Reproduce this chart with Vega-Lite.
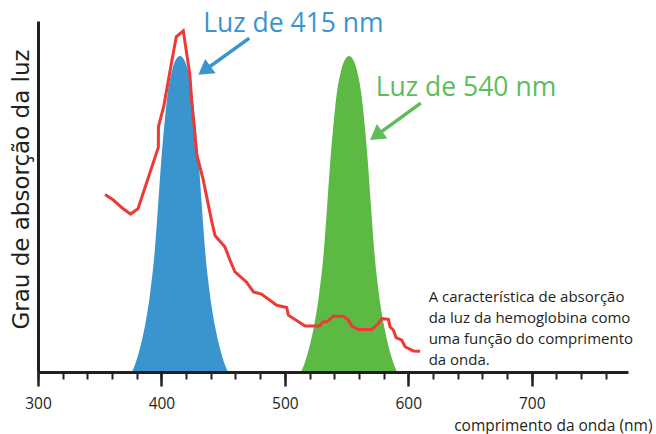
{
  "$schema": "https://vega.github.io/schema/vega-lite/v6.json",
  "width": 590,
  "height": 351,
  "autosize": {"type": "none"},
  "padding": {"left": 38, "top": 21, "right": 28, "bottom": 62},
  "background": "white",
  "config": {"view": {"stroke": null}, "font": "Open Sans"},
  "datasets": {
    "blue": [
      {"nm": 376, "abs": 0}, {"nm": 378.5, "abs": 2}, {"nm": 382, "abs": 6}, {"nm": 386.6, "abs": 13},
      {"nm": 390.7, "abs": 22}, {"nm": 394.7, "abs": 35}, {"nm": 397.2, "abs": 47}, {"nm": 399.8, "abs": 60},
      {"nm": 402.8, "abs": 72}, {"nm": 405.3, "abs": 80}, {"nm": 408, "abs": 85}, {"nm": 411, "abs": 88.5},
      {"nm": 415, "abs": 90}, {"nm": 419, "abs": 88.5}, {"nm": 422, "abs": 85}, {"nm": 424.7, "abs": 80},
      {"nm": 427.2, "abs": 72}, {"nm": 430.2, "abs": 60}, {"nm": 432.8, "abs": 47}, {"nm": 435.3, "abs": 35},
      {"nm": 439.3, "abs": 22}, {"nm": 443.4, "abs": 13}, {"nm": 448, "abs": 6}, {"nm": 451.5, "abs": 2},
      {"nm": 454, "abs": 0}
    ],
    "green": [
      {"nm": 513, "abs": 0}, {"nm": 515.5, "abs": 2}, {"nm": 519, "abs": 6}, {"nm": 523.6, "abs": 13},
      {"nm": 527.7, "abs": 22}, {"nm": 531.7, "abs": 35}, {"nm": 534.2, "abs": 47}, {"nm": 536.8, "abs": 60},
      {"nm": 539.8, "abs": 72}, {"nm": 542.3, "abs": 80}, {"nm": 545, "abs": 85}, {"nm": 548, "abs": 88.5},
      {"nm": 552, "abs": 90}, {"nm": 556, "abs": 88.5}, {"nm": 559, "abs": 85}, {"nm": 561.7, "abs": 80},
      {"nm": 564.2, "abs": 72}, {"nm": 567.2, "abs": 60}, {"nm": 569.8, "abs": 47}, {"nm": 572.3, "abs": 35},
      {"nm": 576.3, "abs": 22}, {"nm": 580.4, "abs": 13}, {"nm": 585, "abs": 6}, {"nm": 588.5, "abs": 2},
      {"nm": 591, "abs": 0}
    ],
    "hemo": [
      {"nm": 354.3, "abs": 50.6}, {"nm": 361, "abs": 49}, {"nm": 369, "abs": 46.5}, {"nm": 375, "abs": 45},
      {"nm": 381, "abs": 46.5}, {"nm": 397.5, "abs": 64}, {"nm": 397.6, "abs": 69.9}, {"nm": 402, "abs": 75.9},
      {"nm": 407, "abs": 85.8}, {"nm": 412, "abs": 95.5}, {"nm": 417.7, "abs": 97.2}, {"nm": 423, "abs": 84.8},
      {"nm": 424.5, "abs": 77.3}, {"nm": 428.6, "abs": 62}, {"nm": 434, "abs": 54.5}, {"nm": 440.7, "abs": 43},
      {"nm": 443.4, "abs": 38.9}, {"nm": 451.5, "abs": 35.6}, {"nm": 455.6, "abs": 31.8}, {"nm": 459.6, "abs": 28.5},
      {"nm": 469, "abs": 25.6}, {"nm": 474.5, "abs": 22.8}, {"nm": 481, "abs": 22.2}, {"nm": 493.4, "abs": 19},
      {"nm": 501.5, "abs": 18.4}, {"nm": 502.8, "abs": 16.2}, {"nm": 516.4, "abs": 13.1}, {"nm": 528, "abs": 13.1},
      {"nm": 531.2, "abs": 14.3}, {"nm": 534, "abs": 14.3}, {"nm": 539.3, "abs": 15.9}, {"nm": 547.4, "abs": 15.9},
      {"nm": 551.5, "abs": 14.8}, {"nm": 554.2, "abs": 13.1}, {"nm": 559.6, "abs": 12.1}, {"nm": 570.4, "abs": 12.1},
      {"nm": 575.8, "abs": 13.8}, {"nm": 578.5, "abs": 15.2}, {"nm": 583.9, "abs": 15}, {"nm": 585.2, "abs": 12.9},
      {"nm": 588, "abs": 11.9}, {"nm": 590.1, "abs": 9.8}, {"nm": 594.7, "abs": 9.1}, {"nm": 597.4, "abs": 7.2},
      {"nm": 604.1, "abs": 6}, {"nm": 609.6, "abs": 5.9}
    ],
    "arrows": [
      {"luz": "415", "tx": 471.2, "ty": 95.1, "hx": 434.8, "hy": 85.9},
      {"luz": "540", "tx": 610.1, "ty": 76.6, "hx": 573.9, "hy": 67.35}
    ],
    "labels": [
      {"luz": "415", "lx": 506.9, "ly": 97, "text": "Luz de 415 nm"},
      {"luz": "540", "lx": 646.7, "ly": 78.6, "text": "Luz de 540 nm"}
    ],
    "note": [
      {"nx": 616.5, "ny": 19.9, "text": "A característica de absorção\nda luz da hemoglobina como\numa função do comprimento\nda onda."}
    ]
  },
  "resolve": {"axis": {"x": "independent"}},
  "layer": [
    {
      "data": {"name": "blue"},
      "mark": {"type": "area", "color": "#3a94cd", "interpolate": "monotone"},
      "encoding": {
        "x": {"field": "nm", "type": "quantitative", "scale": {"domain": [300, 778], "nice": false},
          "axis": {"orient": "bottom", "values": [300,320,340,360,380,400,420,440,460,480,500,520,540,560,580,600,620,640,660,680,700,720,740,760],
            "labels": false, "tickSize": 7, "tickWidth": 2, "tickColor": "#231f20", "domainColor": "#231f20", "domainWidth": 3,
            "title": null, "grid": false, "zindex": 2}},
        "y": {"field": "abs", "type": "quantitative", "scale": {"domain": [0, 100], "nice": false},
          "axis": {"orient": "left", "ticks": false, "labels": false, "grid": false, "domain": true, "domainColor": "#231f20", "domainWidth": 3,
            "title": "Grau de absorção da luz", "titleFont": "DejaVu Sans", "titleFontSize": 23, "titleFontWeight": "normal", "titleColor": "#231f20",
            "titleX": -5, "titleY": 168, "titleAngle": -90, "titleAlign": "center", "titleBaseline": "bottom", "zindex": 2}}
      }
    },
    {
      "data": {"name": "green"},
      "mark": {"type": "area", "color": "#5bb944", "interpolate": "monotone"},
      "encoding": {
        "x": {"field": "nm", "type": "quantitative", "scale": {"domain": [300, 778], "nice": false},
          "axis": {"orient": "bottom", "values": [300, 400, 500, 600, 700], "domain": false, "tickSize": 14, "tickWidth": 2.5,
            "tickColor": "#231f20", "labelFontSize": 15.5, "labelColor": "#231f20", "labelPadding": 10, "labelFlush": false, "labelOverlap": false, "grid": false,
            "title": "comprimento da onda (nm)", "titleFontSize": 15.5, "titleFontWeight": "normal", "titleColor": "#231f20",
            "titleX": 614, "titleY": 58, "titleAlign": "right", "titleBaseline": "alphabetic", "zindex": 2}},
        "y": {"field": "abs", "type": "quantitative", "scale": {"domain": [0, 100], "nice": false}}
      }
    },
    {
      "data": {"name": "hemo"},
      "mark": {"type": "line", "color": "#ee3a36", "strokeWidth": 3},
      "encoding": {
        "x": {"field": "nm", "type": "quantitative", "scale": {"domain": [300, 778], "nice": false}, "axis": null},
        "y": {"field": "abs", "type": "quantitative", "scale": {"domain": [0, 100], "nice": false}}
      }
    },
    {
      "data": {"name": "arrows"},
      "mark": {"type": "rule", "strokeWidth": 3.5},
      "encoding": {
        "x": {"field": "tx", "type": "quantitative", "scale": {"domain": [300, 778], "nice": false}, "axis": null},
        "y": {"field": "ty", "type": "quantitative", "scale": {"domain": [0, 100], "nice": false}},
        "x2": {"field": "hx"},
        "y2": {"field": "hy"},
        "color": {"field": "luz", "type": "nominal", "scale": {"domain": ["415", "540"], "range": ["#3a94cd", "#5dbd5c"]}, "legend": null}
      }
    },
    {
      "data": {"name": "arrows"},
      "mark": {"type": "point", "shape": "M0,-1L1.2,1L-1.2,1Z", "size": 222, "angle": 234, "filled": true, "opacity": 1},
      "encoding": {
        "x": {"field": "hx", "type": "quantitative", "scale": {"domain": [300, 778], "nice": false}, "axis": null},
        "y": {"field": "hy", "type": "quantitative", "scale": {"domain": [0, 100], "nice": false}},
        "color": {"field": "luz", "type": "nominal", "scale": {"domain": ["415", "540"], "range": ["#3a94cd", "#5dbd5c"]}, "legend": null}
      }
    },
    {
      "data": {"name": "labels"},
      "mark": {"type": "text", "fontSize": 26.5, "align": "center", "baseline": "alphabetic"},
      "encoding": {
        "x": {"field": "lx", "type": "quantitative", "scale": {"domain": [300, 778], "nice": false}, "axis": null},
        "y": {"field": "ly", "type": "quantitative", "scale": {"domain": [0, 100], "nice": false}},
        "text": {"field": "text"},
        "color": {"field": "luz", "type": "nominal", "scale": {"domain": ["415", "540"], "range": ["#3a94cd", "#5dbd5c"]}, "legend": null}
      }
    },
    {
      "data": {"name": "note"},
      "mark": {"type": "text", "fontSize": 15, "align": "left", "baseline": "alphabetic", "lineBreak": "\n", "lineHeight": 21, "color": "#231f20"},
      "encoding": {
        "x": {"field": "nx", "type": "quantitative", "scale": {"domain": [300, 778], "nice": false}, "axis": null},
        "y": {"field": "ny", "type": "quantitative", "scale": {"domain": [0, 100], "nice": false}},
        "text": {"field": "text"}
      }
    }
  ]
}
